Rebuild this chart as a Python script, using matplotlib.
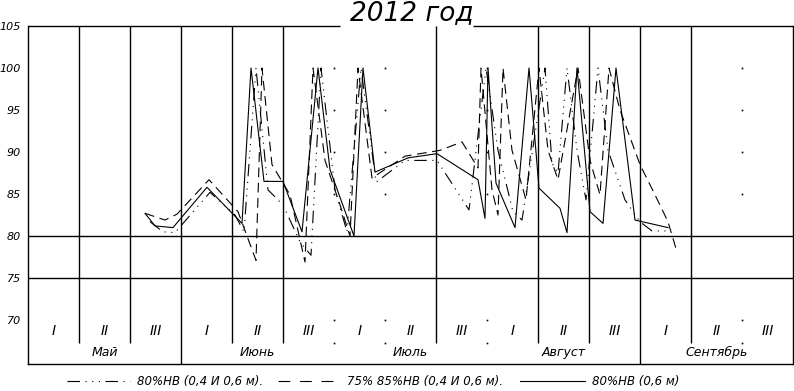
import matplotlib
matplotlib.use('Agg')
import matplotlib.pyplot as plt
from matplotlib.lines import Line2D

plt.rcParams['lines.scale_dashes'] = False
plt.rcParams['font.family'] = ['DejaVu Sans']

# ---- data (x = days since 1 May, y = soil moisture, % НВ) ----
months = ['Май', 'Июнь', 'Июль', 'Август', 'Сентябрь']
decade_labels = ['I', 'II', 'III'] * 5
yticks = [70, 75, 80, 85, 90, 95, 100, 105]
season_days = 153

# 80%НВ (0,6 м) - solid
s_day = [23.4, 25.4, 29.0, 35.8, 42.8, 44.6, 47.2, 51.0, 54.8, 58.0, 60.4, 65.2, 67.0,
         69.4, 76.0, 81.8, 90.0, 91.4, 92.0, 93.6, 97.4, 100.2, 102.2, 106.4, 107.8,
         109.8, 112.4, 115.0, 117.6, 121.4, 128.0]
s_val = [82.7, 81.2, 81.0, 85.8, 81.5, 100, 86.5, 86.5, 80.5, 100, 87.9, 80.0, 100,
         87.6, 89.3, 89.8, 86.7, 82.1, 100, 86.3, 81.0, 100, 85.7, 83.3, 80.4,
         100, 82.9, 81.5, 100, 81.9, 81.0]

# 75% 85%НВ (0,4 и 0,6 м) - dashed
d_day = [23.4, 27.4, 29.8, 36.2, 42.0, 45.6, 46.8, 48.8, 52.4, 55.4, 57.0, 59.4, 62.4,
         64.4, 66.0, 68.8, 75.4, 82.4, 86.8, 90.0, 90.6, 92.8, 94.0, 95.0, 96.8, 99.6,
         102.2, 104.0, 106.0, 110.0, 112.4, 114.4, 116.2, 118.4, 122.4, 125.4, 128.0, 129.8]
d_val = [82.7, 81.9, 82.6, 86.7, 82.9, 77.1, 100, 88.5, 84.9, 76.9, 100, 89.0, 83.7,
         80.0, 100, 86.9, 89.5, 90.2, 91.2, 88.1, 100, 85.5, 82.5, 100, 90.2, 84.3,
         100, 90.2, 86.7, 100, 89.0, 84.9, 100, 95.0, 88.5, 84.9, 81.7, 78.1]

# 80%НВ (0,4 и 0,6 м) - dash-dot-dot
a_day = [24.4, 27.0, 29.4, 36.4, 41.4, 43.2, 45.6, 48.0, 51.0, 54.4, 56.6, 58.6, 61.4,
         63.8, 66.6, 69.6, 75.4, 81.8, 88.2, 91.6, 94.0, 97.0, 98.8, 103.4, 104.8, 106.0,
         107.8, 109.8, 111.6, 114.0, 116.0, 119.4, 122.4, 124.8, 128.0]
a_val = [81.7, 80.5, 80.4, 85.2, 82.5, 80.5, 100, 85.5, 83.7, 79.3, 77.7, 100, 85.5,
         80.5, 100, 86.4, 89.0, 89.0, 83.1, 100, 90.2, 82.9, 81.9, 100, 88.7, 87.5,
         100, 90.2, 84.3, 100, 90.2, 84.3, 81.7, 80.6, 80.6]

# ---- figure ----
W, H = 794, 391
fig = plt.figure(figsize=(W / 100, H / 100), dpi=100)
fig.patch.set_facecolor('white')
L, R, T, B = 28, 793, 26, 364
ax = fig.add_axes([L / W, 1 - B / H, (R - L) / W, (B - T) / H])

ymin = 105 - (B - T) / 8.4
ax.set_xlim(0, season_days)
ax.set_ylim(ymin, 105)
dec = season_days / 15.0
label_row_bottom = 105 - (343 - T) / 8.4

fnt = dict(family=['DejaVu Sans'], style='italic', color='black')

# spines
for sp in ['left', 'right', 'bottom']:
    ax.spines[sp].set_linewidth(1.0)
ax.spines['top'].set_visible(False)
ax.hlines(105, 0, 62.4, color='black', lw=1.0, clip_on=False)
ax.hlines(105, 89.0, season_days, color='black', lw=1.0, clip_on=False)

# horizontal grid lines
for yv in (80, 75):
    ax.axhline(yv, color='black', lw=1.0)

# vertical decade lines
solid_k = [1, 2, 4, 5, 8, 10, 11, 13]
month_k = [3, 12]
dotted_k = [6, 7, 9, 14]
for k in solid_k:
    ax.vlines(k * dec, label_row_bottom, 105, color='black', lw=1.0)
for k in month_k:
    ax.vlines(k * dec, ymin, 105, color='black', lw=1.0)
for k in dotted_k:
    for yv in [100, 95, 90, 85, 70, label_row_bottom]:
        ax.plot([k * dec], [yv], marker='s', ms=1.2, color='black', mec='none')

# series
ax.plot(a_day, a_val, color='black', lw=0.8, dashes=(9, 4, 0.8, 4, 0.8, 4, 0.8, 4))
ax.plot(d_day, d_val, color='black', lw=0.8, dashes=(7, 4))
ax.plot(s_day, s_val, color='black', lw=0.8)

# y tick labels
ax.set_yticks(yticks)
ax.set_yticklabels([str(v) for v in yticks], fontsize=8, style='italic')
ax.tick_params(axis='y', length=0, pad=5)
ax.set_xticks([])

# decade and month labels
for i, lab in enumerate(decade_labels):
    ax.text((i + 0.5) * dec, 68.7, lab, ha='center', va='center', fontsize=10, **fnt)
for m, name in enumerate(months):
    ax.text((3 * m + 1.5) * dec, 66.1, name, ha='center', va='center', fontsize=9, **fnt)

# title
fig.text(412 / W, 1 - 13 / H, '2012 год', ha='center', va='center', fontsize=19, **fnt)

# legend
ly = 1 - 381 / H
items = [
    ((67, 130), dict(dashes=(9, 4, 0.8, 4, 0.8, 4, 0.8, 4)), 137, '80%НВ (0,4 И 0,6 м).'),
    ((278, 338), dict(dashes=(8.5, 7)), 347, '75% 85%НВ (0,4 И 0,6 м).'),
    ((520, 585), dict(), 592, '80%НВ (0,6 м)'),
]
for (x0, x1), st, tx, txt in items:
    fig.add_artist(Line2D([x0 / W, x1 / W], [ly, ly], color='black', lw=0.8,
                          transform=fig.transFigure, **st))
    fig.text(tx / W, ly, txt, ha='left', va='center', fontsize=8.5, **fnt)

fig.savefig('out.png', dpi=100, facecolor='white')
